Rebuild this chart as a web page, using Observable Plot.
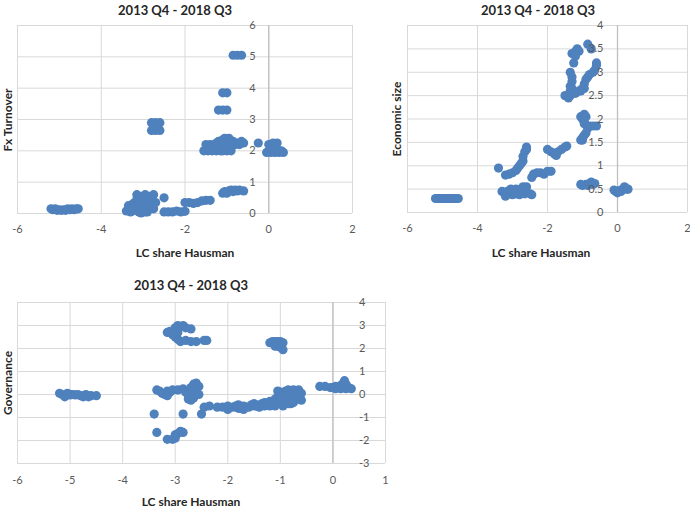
<!DOCTYPE html>
<html>
<head>
<meta charset="utf-8">
<script src="https://cdn.jsdelivr.net/npm/d3@7"></script>
<script src="https://cdn.jsdelivr.net/npm/@observablehq/plot@0.6"></script>
<style>
  html, body { margin: 0; padding: 0; background: #fff; }
  #chart { position: relative; width: 690px; height: 510px; background: #fff; font-family: Lato, "Open Sans", sans-serif; overflow: hidden; }
  .lbl { position: absolute; white-space: nowrap; transform: translate(-50%, -50%); color: #262626; font-weight: bold; line-height: 1; }
  .rot { transform: translate(-50%, -50%) rotate(-90deg); }
  .panel { position: absolute; }
</style>
</head>
<body>
<div id="chart"></div>
<script>
// ---------- Panel 1: Fx Turnover ----------
const fxX = [-5.2,-5.15,-5.1,-5.05,-5.0,-4.95,-4.9,-4.85,-4.8,-4.75,-4.7,-4.65,-4.6,-4.55,
  -3.4,-3.35,-3.3,-3.3,-3.25,-3.2,-3.2,-3.15,-3.15,-3.1,-3.1,-3.05,-3.05,-3.0,-3.0,-2.95,-2.95,-2.9,-2.9,-2.85,-2.85,-2.8,-2.75,-2.75,-2.7,-2.5,
  -3.25,-3.1,-3.0,-2.9,-2.8,-3.35,-3.2,
  -2.5,-2.4,-2.3,-2.2,-2.1,-2.0,
  -2.0,-1.9,-1.8,-1.7,-1.6,-1.5,-1.4,
  -1.1,-1.05,-1.0,-0.95,-0.9,-0.85,-0.8,-0.75,-0.7,-0.6,
  -2.8,-2.7,-2.6,-2.8,-2.7,-2.6,-2.75,-2.65,
  -1.55,-1.5,-1.45,-1.45,-1.4,-1.35,-1.3,-1.25,-1.2,-1.2,-1.15,-1.1,-1.1,-1.05,-1.0,-1.0,-0.95,-0.9,-0.9,-0.85,-0.8,-0.75,-0.7,-0.65,-0.6,
  -1.4,-1.3,-1.25,-1.15,-1.05,-0.95,-1.0,-1.1,
  -0.25,
  -0.05,0.0,0.05,0.05,0.1,0.15,0.2,0.2,0.25,0.3,0.35,
  -1.2,-1.1,-1.0,
  -1.1,-1.0,
  -0.85,-0.75,-0.65];
const fxY = [0.15,0.12,0.15,0.1,0.12,0.1,0.12,0.1,0.15,0.12,0.15,0.12,0.15,0.15,
  0.08,0.1,0.2,0.05,0.3,0.1,0.35,0.6,0.45,0.05,0.3,0.55,0.02,0.15,0.4,0.05,0.6,0.25,0.05,0.55,0.4,0.3,0.6,0.15,0.35,0.5,
  0.15,0.2,0.25,0.35,0.45,0.25,0.2,
  0.05,0.05,0.05,0.08,0.05,0.07,
  0.35,0.35,0.32,0.35,0.4,0.42,0.42,
  0.65,0.7,0.65,0.72,0.75,0.7,0.75,0.72,0.75,0.72,
  2.9,2.9,2.9,2.65,2.65,2.65,2.75,2.8,
  2.0,2.2,2.0,2.1,2.2,2.0,2.2,2.0,2.15,2.3,2.0,2.2,2.0,2.4,2.0,2.3,2.4,2.0,2.25,2.3,2.2,2.25,2.2,2.3,2.25,
  2.1,2.1,2.25,2.1,2.2,2.15,2.2,2.35,
  2.25,
  1.95,2.2,1.95,2.1,2.25,1.95,2.25,2.05,1.95,2.0,1.95,
  3.3,3.3,3.3,
  3.85,3.85,
  5.05,5.05,5.05];

// ---------- Panel 2: Economic size ----------
const esX = [-5.2,-5.15,-5.1,-5.05,-5.0,-4.95,-4.9,-4.85,-4.8,-4.75,-4.7,-4.65,-4.6,-4.55,
  -3.4,
  -3.2,-3.1,-3.0,-2.9,-2.85,-2.8,-2.75,-2.7,-2.7,-2.65,-2.6,-2.6,
  -3.3,-3.2,-3.2,-3.1,-3.05,-3.0,-2.9,-2.9,-2.8,-2.8,-2.75,-2.7,-2.65,-2.6,-2.6,-2.5,-2.45,
  -3.15,-3.0,-2.85,-2.7,
  -2.45,-2.4,-2.3,-2.2,-2.1,-2.0,-1.9,
  -2.0,-1.9,-1.8,-1.75,-1.7,-1.6,-1.5,-1.45,
  -1.05,-1.0,-0.9,-0.85,-0.8,-0.75,-0.7,-0.65,
  -0.1,-0.05,0.0,0.05,0.1,0.15,0.2,0.25,0.3,
  -1.05,-1.0,-1.0,-0.95,-0.9,-0.85,-0.8,-0.7,-0.6,-0.95,-0.9,-0.95,-1.05,-1.0,-0.95,
  -1.5,-1.4,-1.35,-1.3,-1.35,-1.35,-1.3,-1.3,-1.35,-1.3,
  -1.2,-1.1,-1.05,-1.0,-0.95,-0.95,-0.9,-0.85,-0.8,-0.7,-0.65,-0.6,-0.6,
  -1.3,-1.2,-1.15,-1.1,-1.25,-1.2,-0.85,-0.75];
const esY = [0.3,0.3,0.3,0.3,0.3,0.3,0.3,0.3,0.3,0.3,0.3,0.3,0.3,0.3,
  0.95,
  0.8,0.82,0.85,0.9,0.95,1.0,1.05,1.1,1.2,1.3,1.35,1.4,
  0.45,0.42,0.35,0.4,0.5,0.38,0.4,0.5,0.45,0.38,0.5,0.55,0.4,0.55,0.45,0.4,0.38,
  0.45,0.45,0.48,0.48,
  0.75,0.82,0.85,0.85,0.82,0.88,0.88,
  1.35,1.3,1.25,1.22,1.3,1.35,1.4,1.42,
  0.6,0.58,0.6,0.58,0.62,0.65,0.6,0.62,
  0.48,0.45,0.42,0.47,0.45,0.5,0.55,0.5,0.5,
  1.55,1.6,1.55,1.65,1.7,1.8,1.85,1.85,1.85,1.9,2.05,2.1,2.05,2.0,1.95,
  2.5,2.45,2.5,2.55,2.6,2.7,2.8,2.9,3.0,2.65,
  2.55,2.6,2.6,2.65,2.75,2.65,2.85,2.9,2.95,3.0,3.05,3.15,3.2,
  3.4,3.45,3.5,3.45,3.2,3.35,3.6,3.5];

// ---------- Panel 3: Governance ----------
const gvX = [-5.2,-5.15,-5.1,-5.1,-5.05,-5.0,-5.0,-4.95,-4.9,-4.85,-4.8,-4.75,-4.7,-4.65,-4.6,-4.5,
  -3.35,-3.3,-3.25,-3.2,-3.15,-3.15,-3.1,-3.05,
  -2.95,-2.85,-2.8,-2.75,-2.75,-2.7,-2.7,-2.7,-2.65,-2.65,-2.6,-2.6,-2.55,-2.55,
  -3.4,-2.85,-2.5,
  -3.35,-3.15,-3.05,-3.0,-3.0,-2.95,-2.9,-2.85,
  -3.15,-3.1,-3.05,-3.0,-2.95,-2.95,-2.9,-3.0,-2.95,-2.9,-2.85,-2.8,-2.8,-2.7,-2.7,-2.6,-2.45,-2.4,
  -1.2,-1.15,-1.1,-1.1,-1.1,-1.05,-1.05,-1.0,-1.0,-0.95,-0.95,
  -2.45,-2.35,-2.2,-2.1,-2.0,-2.0,-1.9,-1.85,-1.8,-1.8,-1.75,-1.7,-1.7,-1.65,-1.6,-1.55,-1.5,-1.5,-1.45,-1.4,-1.4,-1.35,-1.3,-1.3,-1.25,-1.2,-1.2,-1.15,-1.1,-1.1,
  -1.05,-1.05,-1.0,-1.0,-1.0,-0.95,-0.95,-0.95,-0.9,-0.9,-0.9,-0.85,-0.85,-0.85,-0.8,-0.8,-0.8,-0.75,-0.75,-0.7,-0.7,-0.65,-0.65,-0.6,-0.6,
  -1.0,-0.9,-0.8,-0.7,-1.1,-0.75,
  -0.25,-0.15,-0.05,0.0,0.05,0.05,0.1,0.15,0.15,0.2,0.22,0.25,0.25,0.3,0.35];
const gvY = [0.05,0.0,-0.05,-0.1,0.05,0.0,-0.02,0.0,-0.02,0.0,-0.05,-0.1,0.0,-0.1,-0.05,-0.05,
  0.2,0.15,0.05,0.0,-0.05,0.15,0.1,0.2,
  0.2,0.25,0.1,0.0,-0.2,-0.25,0.3,0.1,0.45,-0.15,0.5,0.1,0.0,0.35,
  -0.85,-0.85,-0.85,
  -1.65,-1.95,-1.95,-1.9,-1.75,-1.7,-1.6,-1.65,
  2.7,2.75,2.6,2.5,2.4,2.7,2.3,2.9,3.0,2.95,3.0,2.9,2.35,2.85,2.3,2.3,2.35,2.35,
  2.25,2.3,2.3,2.2,2.1,2.3,2.1,2.3,2.05,2.25,1.95,
  -0.55,-0.5,-0.55,-0.55,-0.65,-0.5,-0.55,-0.5,-0.45,-0.6,-0.6,-0.5,-0.65,-0.55,-0.55,-0.45,-0.5,-0.4,-0.5,-0.45,-0.55,-0.4,-0.35,-0.5,-0.45,-0.3,-0.5,-0.35,-0.5,-0.2,
  -0.1,0.15,-0.4,0.1,-0.2,0.0,-0.5,-0.25,0.15,-0.3,0.05,0.2,-0.4,-0.1,0.0,-0.2,-0.4,0.2,-0.35,0.1,-0.2,0.2,-0.1,-0.25,0.05,
  -0.3,-0.15,-0.3,-0.05,-0.4,0.0,
  0.35,0.35,0.3,0.3,0.25,0.35,0.3,0.4,0.25,0.5,0.6,0.45,0.25,0.3,0.25];

// ---------- Ticks & labels ----------
const title = "2013 Q4 - 2018 Q3";
const xLabel = "LC share Hausman";
const fxXTicks = [-6,-4,-2,0,2];
const fxYTicks = [0,1,2,3,4,5,6];
const esXTicks = [-6,-4,-2,0,2];
const esYTicks = [0,0.5,1,1.5,2,2.5,3,3.5,4];
const gvXTicks = [-6,-5,-4,-3,-2,-1,0,1];
const gvYTicks = [-3,-2,-1,0,1,2,3,4];

const BLUE = "#4F81BD";
const GRID = "#d9d9d9";
const AXIS = "#bfbfbf";
const TICKTXT = "#595959";

function panel({xs, ys, xTicks, yTicks, xDomain, yDomain, width, height, margins, yLabelDx, yLabelAnchor, xPad}) {
  const pts = xs.map((x, i) => ({x, y: ys[i]}));
  return Plot.plot({
    width, height,
    marginLeft: margins[0], marginRight: margins[1], marginTop: margins[2], marginBottom: margins[3],
    x: {domain: xDomain, ticks: xTicks, axis: null},
    y: {domain: yDomain, ticks: yTicks, axis: null},
    style: {fontFamily: "Lato, 'Open Sans', sans-serif", fontSize: "11px", color: TICKTXT, background: "transparent", overflow: "visible"},
    marks: [
      Plot.gridX(xTicks, {stroke: GRID, strokeOpacity: 1, strokeWidth: 1}),
      Plot.gridY(yTicks, {stroke: GRID, strokeOpacity: 1, strokeWidth: 1}),
      Plot.ruleX([0], {stroke: AXIS, strokeWidth: 1.3}),
      Plot.ruleY([yDomain[0]], {stroke: GRID, strokeWidth: 1}),
      Plot.dot(pts, {x: "x", y: "y", r: 4.6, fill: BLUE, stroke: null}),
      Plot.text(yTicks, {x: () => 0, y: d => d, text: d => String(d), dx: yLabelDx, textAnchor: yLabelAnchor, fill: TICKTXT, fontSize: 11}),
      Plot.axisX(xTicks, {tickSize: 0, tickPadding: xPad, label: null, tickFormat: d => String(d), fontSize: 11, fill: TICKTXT})
    ]
  });
}

const chart = document.getElementById("chart");
function addSvg(svg, left, top) {
  const d = document.createElement("div");
  d.className = "panel";
  d.style.left = left + "px";
  d.style.top = top + "px";
  d.appendChild(svg);
  chart.appendChild(d);
}
function addText(text, cx, cy, size, rotate) {
  const d = document.createElement("div");
  d.className = "lbl" + (rotate ? " rot" : "");
  d.style.left = cx + "px";
  d.style.top = cy + "px";
  d.style.fontSize = size + "px";
  d.textContent = text;
  chart.appendChild(d);
}

addSvg(panel({xs: fxX, ys: fxY, xTicks: fxXTicks, yTicks: fxYTicks, xDomain: [-6, 2], yDomain: [0, 6],
  width: 360, height: 250, margins: [17, 8, 25, 37], yLabelDx: -13, yLabelAnchor: "end", xPad: 12}), 0, 0);
addSvg(panel({xs: esX, ys: esY, xTicks: esXTicks, yTicks: esYTicks, xDomain: [-6, 2], yDomain: [0, 4],
  width: 350, height: 250, margins: [67, 3, 25, 38], yLabelDx: -14, yLabelAnchor: "end", xPad: 12}), 340, 0);
addSvg(panel({xs: gvX, ys: gvY, xTicks: gvXTicks, yTicks: gvYTicks, xDomain: [-6, 1], yDomain: [-3, 4],
  width: 400, height: 250, margins: [17, 15, 42, 47], yLabelDx: 26, yLabelAnchor: "start", xPad: 13}), 0, 260);

addText(title, 175, 10, 13);
addText(title, 538, 10, 13);
addText(title, 191, 285, 13);
addText(xLabel, 185, 253, 12);
addText(xLabel, 541, 253, 12);
addText(xLabel, 191, 502, 12);
addText("Fx Turnover", 8, 120, 12, true);
addText("Economic size", 397, 119, 12, true);
addText("Governance", 8, 383, 12, true);
</script>
</body>
</html>
